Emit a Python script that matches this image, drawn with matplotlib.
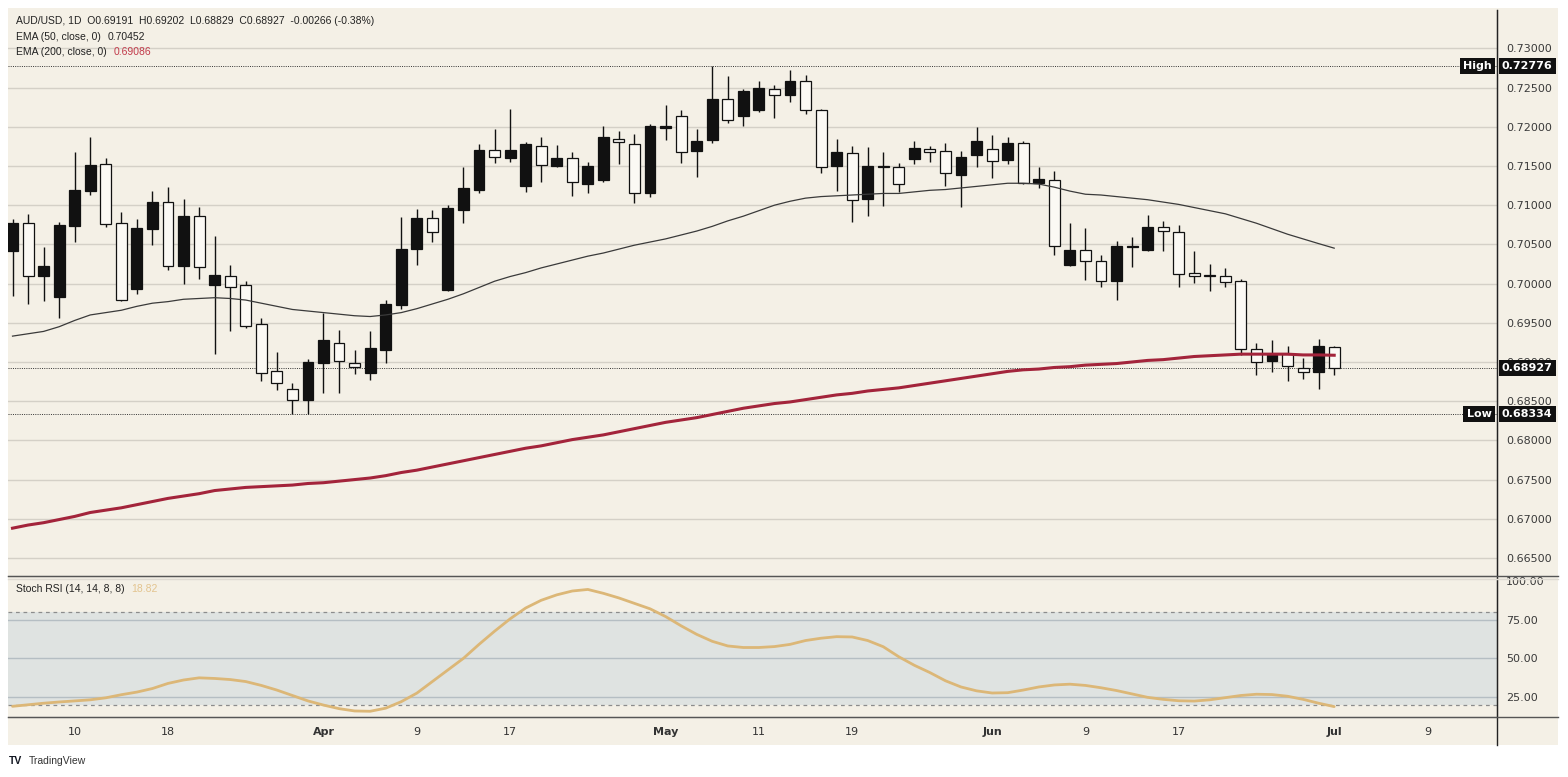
import matplotlib
matplotlib.use('Agg')
import matplotlib.pyplot as plt
import numpy as np
from matplotlib.patches import Rectangle
from matplotlib.lines import Line2D

# ---------------- data ----------------
opens = [0.70421, 0.70773, 0.70103, 0.69827, 0.70740, 0.71185, 0.71525, 0.70773, 0.69929, 0.70701,
         0.71045, 0.70226, 0.70863, 0.69984, 0.70103, 0.69976, 0.69488, 0.68881, 0.68660, 0.68520,
         0.68991, 0.69246, 0.68991, 0.68859, 0.69148, 0.69722, 0.70447, 0.70838, 0.69921, 0.70935,
         0.71194, 0.71703, 0.71605, 0.71245, 0.71758, 0.71499, 0.71605, 0.71266, 0.71321, 0.71843,
         0.71775, 0.71160, 0.71987, 0.72135, 0.71694, 0.71826, 0.72352, 0.72135, 0.72212, 0.72487,
         0.72411, 0.72585, 0.72220, 0.71503, 0.71665, 0.71075, 0.71491, 0.71486, 0.71584, 0.71711,
         0.71690, 0.71389, 0.71644, 0.71711, 0.71580, 0.71792, 0.71287, 0.71325, 0.70239, 0.70430,
         0.70285, 0.70039, 0.70468, 0.70430, 0.70727, 0.70655, 0.70137, 0.70111, 0.70103, 0.70039,
         0.69172, 0.69010, 0.69104, 0.68917, 0.68874, 0.69191]
highs = [0.70824, 0.70888, 0.70472, 0.70782, 0.71682, 0.71873, 0.71597, 0.70918, 0.70824, 0.71185,
         0.71228, 0.71079, 0.70973, 0.70612, 0.70243, 0.70039, 0.69560, 0.69127, 0.68736, 0.69033,
         0.69623, 0.69411, 0.69157, 0.69390, 0.69793, 0.70855, 0.70952, 0.70939, 0.71003, 0.71491,
         0.71775, 0.71978, 0.72224, 0.71809, 0.71864, 0.71766, 0.71673, 0.71546, 0.72008, 0.71949,
         0.71906, 0.72033, 0.72275, 0.72220, 0.71978, 0.72776, 0.72648, 0.72487, 0.72585, 0.72530,
         0.72721, 0.72657, 0.72230, 0.71843, 0.71758, 0.71737, 0.71682, 0.71537, 0.71813, 0.71758,
         0.71792, 0.71694, 0.72000, 0.71898, 0.71873, 0.71813, 0.71491, 0.71431, 0.70773, 0.70710,
         0.70366, 0.70540, 0.70600, 0.70875, 0.70795, 0.70748, 0.70413, 0.70252, 0.70200, 0.70060,
         0.69244, 0.69278, 0.69201, 0.69053, 0.69299, 0.69202]
lows = [0.69848, 0.69742, 0.69772, 0.69564, 0.70527, 0.71130, 0.70718, 0.69780, 0.69861, 0.70493,
        0.70179, 0.69997, 0.70060, 0.69106, 0.69390, 0.69432, 0.68753, 0.68639, 0.68342, 0.68334,
        0.68605, 0.68605, 0.68851, 0.68766, 0.68991, 0.69676, 0.70231, 0.70536, 0.69900, 0.70778,
        0.71160, 0.71533, 0.71546, 0.71173, 0.71300, 0.71482, 0.71117, 0.71160, 0.71300, 0.71525,
        0.71024, 0.71109, 0.71838, 0.71542, 0.71363, 0.71788, 0.72050, 0.72008, 0.72190, 0.72106,
        0.72318, 0.72169, 0.71406, 0.71185, 0.70790, 0.70867, 0.70990, 0.71164, 0.71525, 0.71546,
        0.71240, 0.70981, 0.71491, 0.71342, 0.71525, 0.71270, 0.71219, 0.70370, 0.70230, 0.70052,
        0.69954, 0.69793, 0.70209, 0.70413, 0.70413, 0.69954, 0.70005, 0.69911, 0.69954, 0.69087,
        0.68840, 0.68870, 0.68763, 0.68785, 0.68661, 0.68829]
closes = [0.70773, 0.70103, 0.70222, 0.70752, 0.71194, 0.71512, 0.70761, 0.69793, 0.70706, 0.71045,
          0.70226, 0.70863, 0.70218, 0.70111, 0.69954, 0.69462, 0.68859, 0.68736, 0.68520, 0.69000,
          0.69275, 0.69008, 0.68936, 0.69178, 0.69734, 0.70443, 0.70838, 0.70655, 0.70965, 0.71215,
          0.71703, 0.71609, 0.71703, 0.71779, 0.71512, 0.71605, 0.71291, 0.71499, 0.71864, 0.71809,
          0.71160, 0.72012, 0.72012, 0.71673, 0.71821, 0.72360, 0.72093, 0.72458, 0.72500, 0.72402,
          0.72581, 0.72220, 0.71491, 0.71682, 0.71066, 0.71495, 0.71500, 0.71270, 0.71724, 0.71673,
          0.71410, 0.71618, 0.71822, 0.71559, 0.71792, 0.71279, 0.71334, 0.70476, 0.70430, 0.70285,
          0.70035, 0.70476, 0.70476, 0.70727, 0.70667, 0.70124, 0.70103, 0.70103, 0.70022, 0.69172,
          0.69002, 0.69108, 0.68946, 0.68870, 0.69201, 0.68927]

ema50 = [0.6933, 0.6936, 0.6939, 0.6945, 0.6953, 0.6960, 0.6963, 0.6966, 0.6971, 0.6975,
         0.6977, 0.6980, 0.6981, 0.6982, 0.6981, 0.6979, 0.6975, 0.6971, 0.6967, 0.6965,
         0.6963, 0.6961, 0.6959, 0.6958, 0.6960, 0.6963, 0.6968, 0.6974, 0.6980, 0.6987,
         0.6995, 0.7003, 0.7009, 0.7014, 0.7020, 0.7025, 0.7030, 0.7035, 0.7039, 0.7044,
         0.7049, 0.7053, 0.7057, 0.7062, 0.7067, 0.7073, 0.7080, 0.7086, 0.7093, 0.7100,
         0.7105, 0.7109, 0.7111, 0.7112, 0.7113, 0.7114, 0.7115, 0.7115, 0.7117, 0.7119,
         0.7120, 0.7122, 0.7124, 0.7126, 0.7128, 0.7128, 0.7127, 0.7123, 0.7118, 0.7114,
         0.7113, 0.7111, 0.7109, 0.7107, 0.7104, 0.7101, 0.7097, 0.7093, 0.7089, 0.7083,
         0.7077, 0.7070, 0.7063, 0.7057, 0.7051, 0.70452]
ema200 = [0.6688, 0.6692, 0.6695, 0.6699, 0.6703, 0.6708, 0.6711, 0.6714, 0.6718, 0.6722,
          0.6726, 0.6729, 0.6732, 0.6736, 0.6738, 0.6740, 0.6741, 0.6742, 0.6743, 0.6745,
          0.6746, 0.6748, 0.6750, 0.6752, 0.6755, 0.6759, 0.6762, 0.6766, 0.6770, 0.6774,
          0.6778, 0.6782, 0.6786, 0.6790, 0.6793, 0.6797, 0.6801, 0.6804, 0.6807, 0.6811,
          0.6815, 0.6819, 0.6823, 0.6826, 0.6829, 0.6833, 0.6837, 0.6841, 0.6844, 0.6847,
          0.6849, 0.6852, 0.6855, 0.6858, 0.6860, 0.6863, 0.6865, 0.6867, 0.6870, 0.6873,
          0.6876, 0.6879, 0.6882, 0.6885, 0.6888, 0.6890, 0.6891, 0.6893, 0.6894, 0.6896,
          0.6897, 0.6898, 0.6900, 0.6902, 0.6903, 0.6905, 0.6907, 0.6908, 0.6909, 0.6910,
          0.6910, 0.6910, 0.6910, 0.6909, 0.6909, 0.69086]
stoch = [19.0, 20.0, 21.0, 21.8, 22.5, 23.2, 24.5, 26.5, 28.2, 30.5,
         33.8, 36.0, 37.4, 37.0, 36.3, 35.0, 32.5, 29.5, 26.0, 22.5,
         19.8, 17.5, 16.0, 15.8, 17.8, 22.0, 27.5, 35.0, 42.5, 50.0,
         59.0, 67.5, 75.5, 82.5, 87.5, 91.0, 93.5, 94.5, 92.0, 89.0,
         85.5, 82.0, 77.0, 71.0, 65.5, 61.0, 58.0, 57.0, 57.0, 57.6,
         59.0, 61.5, 63.0, 64.0, 63.8, 61.5, 57.5, 51.0, 45.5, 40.8,
         35.5, 31.5, 29.0, 27.6, 27.8, 29.5, 31.5, 32.8, 33.3, 32.5,
         31.0, 29.2, 27.0, 24.8, 23.5, 22.6, 22.4, 23.2, 24.6, 26.0,
         26.8, 26.6, 25.5, 23.5, 21.0, 18.82]

tick_idx = [4, 10, 20, 26, 32, 42, 48, 54, 63, 69, 75, 85, 91]
tick_labels = ['10', '18', 'Apr', '9', '17', 'May', '11', '19', 'Jun', '9', '17', 'Jul', '9']
month_labels = {'Apr', 'May', 'Jun', 'Jul'}

price_ticks = [0.665, 0.670, 0.675, 0.680, 0.685, 0.690, 0.695, 0.700, 0.705,
               0.710, 0.715, 0.720, 0.725, 0.730]
stoch_ticks = [25, 50, 75, 100]

high_val, low_val, last_val = 0.72776, 0.68334, 0.68927
header = "AUD/USD, 1D  O0.69191  H0.69202  L0.68829  C0.68927  -0.00266 (-0.38%)"

# ---------------- layout ----------------
W, H = 1568, 777
fig = plt.figure(figsize=(W / 100, H / 100), dpi=100, facecolor='white')
HF = 'Liberation Sans'


def fx(px):
    return px / W


def fy(py):
    return 1 - py / H


BG = '#f4f0e6'
fig.patches.append(Rectangle((fx(8), fy(745)), fx(1558) - fx(8), fy(8) - fy(745),
                             transform=fig.transFigure, facecolor=BG, edgecolor='none', zorder=-5))

L, R = 8, 1497
ax = fig.add_axes([fx(L), fy(576), fx(R) - fx(L), fy(10) - fy(576)])
ax2 = fig.add_axes([fx(L), fy(717), fx(R) - fx(L), fy(578) - fy(717)], sharex=ax)
for a in (ax, ax2):
    a.set_facecolor(BG)

n = len(closes)
x = np.arange(n)
ax.set_xlim(-0.29, 95.47)
ax.set_ylim(0.66270, 0.73490)

# grid
for t in price_ticks:
    ax.axhline(t, color='#d4d0c7', lw=1, zorder=0.5)

# candles
for i in range(n):
    o, h, l, c = opens[i], highs[i], lows[i], closes[i]
    ax.vlines(x[i], l, h, color='#111111', lw=1, zorder=2)
    up = c >= o
    bottom = min(o, c)
    hgt = max(abs(c - o), 0.00003)
    ax.bar(x[i], hgt, bottom=bottom, width=0.7, color='#111111' if up else '#fbf9f4',
           edgecolor='#111111', linewidth=0.9, zorder=3)

ax.plot(x, ema50, color='#3a3a3a', lw=0.9, zorder=4)
ax.plot(x, ema200, color='#a3243b', lw=2.2, zorder=4)

# dotted reference lines
for v in (high_val, low_val, last_val):
    ax.axhline(v, color='#333333', lw=0.7, ls=(0, (1, 1.3)), zorder=1)

ax.yaxis.tick_right()
ax.set_yticks(price_ticks)
ax.set_yticklabels([f'{t:.5f}' for t in price_ticks])
ax.tick_params(axis='y', length=0, pad=6.5, labelsize=8, labelcolor='#3a3a3a')
ax.tick_params(axis='x', length=0, labelbottom=False)
for s in ('top', 'left'):
    ax.spines[s].set_visible(False)
ax.spines['right'].set_color('#222222')
ax.spines['bottom'].set_color('#555555')

# value boxes
box = dict(boxstyle='square,pad=0.28', facecolor='#111111', edgecolor='none')
for v in (high_val, low_val, last_val):
    ax.annotate(f'{v:.5f}', xy=(1, v), xycoords=('axes fraction', 'data'),
                xytext=(3.6, 0), textcoords='offset points', ha='left', va='center',
                fontsize=8, color='white', fontweight='bold', bbox=box, zorder=10,
                annotation_clip=False)
for v, lab in ((high_val, 'High'), (low_val, 'Low')):
    ax.annotate(lab, xy=(1, v), xycoords=('axes fraction', 'data'),
                xytext=(-4, 0), textcoords='offset points', ha='right', va='center',
                fontsize=8, color='white', fontweight='bold', bbox=box, zorder=10,
                annotation_clip=False)

# header texts
fig.text(fx(16), fy(21), header, fontsize=7.5, family=HF, color='#222222', va='center')
t2 = fig.text(fx(16), fy(37), 'EMA (50, close, 0)', fontsize=7.5, family=HF,
              color='#222222', va='center')
ax.annotate('0.70452', xy=(1, 0.5), xycoords=t2, xytext=(5, 0), textcoords='offset points',
            va='center', ha='left', fontsize=7.5, family=HF, color='#222222',
            annotation_clip=False)
t3 = fig.text(fx(16), fy(52), 'EMA (200, close, 0)', fontsize=7.5, family=HF,
              color='#222222', va='center')
ax.annotate('0.69086', xy=(1, 0.5), xycoords=t3, xytext=(5, 0), textcoords='offset points',
            va='center', ha='left', fontsize=7.5, family=HF, color='#c23a4a',
            annotation_clip=False)

# ---------------- stoch RSI ----------------
ax2.set_ylim(12.1, 101.9)
ax2.axhspan(20, 80, facecolor='#dfe3e1', edgecolor='none', zorder=0.3)
for t in (25, 50, 75):
    ax2.axhline(t, color='#b5bec3', lw=1, zorder=0.5)
for t in (20, 80):
    ax2.axhline(t, color='#8c8c8c', lw=0.9, ls=(0, (3, 3)), zorder=0.6)
ax2.plot(x, stoch, color='#dcb777', lw=2.0, zorder=3, solid_capstyle='round')

ax2.yaxis.tick_right()
ax2.set_yticks(stoch_ticks)
ax2.set_yticklabels([f'{t:.2f}' for t in stoch_ticks])
ax2.tick_params(axis='y', length=0, pad=6.5, labelsize=8, labelcolor='#3a3a3a')
ax2.set_xticks(tick_idx)
ax2.set_xticklabels(tick_labels)
ax2.tick_params(axis='x', length=0, pad=7, labelsize=8, labelcolor='#333333')
for lbl in ax2.get_xticklabels():
    if lbl.get_text() in month_labels:
        lbl.set_fontweight('bold')
for s in ('top', 'left'):
    ax2.spines[s].set_visible(False)
ax2.spines['right'].set_color('#222222')
ax2.spines['bottom'].set_color('#555555')

t4 = fig.text(fx(16), fy(589), 'Stoch RSI (14, 14, 8, 8)', fontsize=7.5, family=HF,
              color='#222222', va='center')
ax2.annotate('18.82', xy=(1, 0.5), xycoords=t4, xytext=(5, 0), textcoords='offset points',
             va='center', ha='left', fontsize=7.5, family=HF, color='#e3c48f',
             annotation_clip=False)

# frame lines
fig.add_artist(Line2D([fx(R), fx(R)], [fy(10), fy(745)], transform=fig.transFigure,
                      color='#222222', lw=1))
fig.add_artist(Line2D([fx(L), fx(1558)], [fy(576), fy(576)], transform=fig.transFigure,
                      color='#555555', lw=1))
fig.add_artist(Line2D([fx(L), fx(1558)], [fy(579), fy(579)], transform=fig.transFigure,
                      color='#dedad2', lw=1))
fig.add_artist(Line2D([fx(L), fx(1558)], [fy(717), fy(717)], transform=fig.transFigure,
                      color='#555555', lw=1))

# footer
fig.text(fx(9), fy(761), 'TV', fontsize=7.5, fontweight='heavy', family=HF,
         color='#131722', va='center')
fig.text(fx(29), fy(761), 'TradingView', fontsize=7.5, family=HF, color='#333333', va='center')

fig.savefig('out.png', dpi=100, facecolor='white')
